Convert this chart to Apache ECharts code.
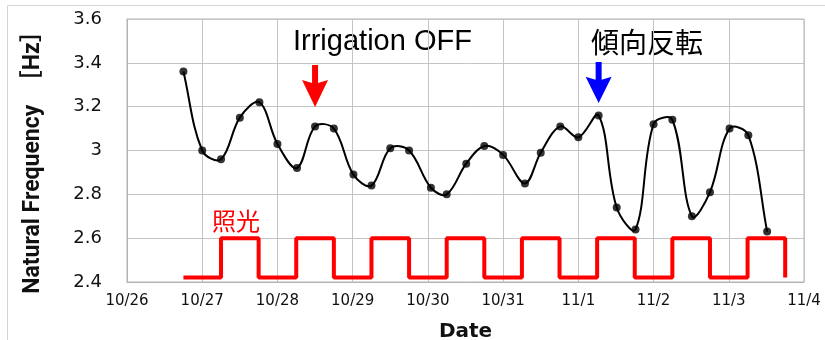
<!DOCTYPE html>
<html>
<head>
<meta charset="utf-8">
<script src="https://cdn.jsdelivr.net/npm/echarts@6/dist/echarts.min.js"></script>
<style>
  html, body { margin: 0; padding: 0; background: #fff; }
  #chart { width: 825px; height: 340px; }
</style>
</head>
<body>
<div id="chart"></div>
<script>
// 横軸の目盛ラベル（10/26 を 0 とした日数）
const dayLabels = ['10/26', '10/27', '10/28', '10/29', '10/30', '10/31', '11/1', '11/2', '11/3', '11/4'];

// 固有振動数の計測時刻（日）と値
const freqTimes = [0.75, 1.0, 1.25, 1.5, 1.76, 2.0, 2.26, 2.5, 2.75, 3.01, 3.25, 3.5, 3.75, 4.04, 4.25, 4.51,
  4.75, 5.0, 5.29, 5.5, 5.76, 6.0, 6.27, 6.51, 6.76, 7.0, 7.25, 7.51, 7.75, 8.01, 8.26, 8.51];
const freqValues = [3.36, 3.0, 2.96, 3.15, 3.22, 3.03, 2.92, 3.11, 3.1, 2.89, 2.84, 3.01, 3.0, 2.83, 2.8, 2.94,
  3.02, 2.98, 2.85, 2.99, 3.11, 3.06, 3.16, 2.74, 2.64, 3.12, 3.14, 2.7, 2.81, 3.1, 3.07, 2.63];

// 照光（6:00-18:00 点灯）
const lightTimes = [0.75, 1.25, 1.75, 2.25, 2.75, 3.25, 3.75, 4.25, 4.75, 5.25, 5.75, 6.25, 6.75, 7.25, 7.75, 8.25, 8.75];
const lightLevels = [2.42, 2.6, 2.42, 2.6, 2.42, 2.6, 2.42, 2.6, 2.42, 2.6, 2.42, 2.6, 2.42, 2.6, 2.42, 2.6, 2.42];

const myChart = echarts.init(document.getElementById('chart'));

const freqData = freqTimes.map((t, i) => [t, freqValues[i]]);
const lightData = lightTimes.map((t, i) => [t, lightLevels[i]]);

const arrowPath = 'path://M10,0 L16,0 L16,18 L26,15 L13,42 L0,15 L10,18 Z';

// Excel 風のスムージング線（区間長で重み付けしたベジェ）
const renderSmooth = (params, api) => {
  const pts = freqData.map(d => api.coord(d));
  const dist = (a, b) => Math.hypot(b[0] - a[0], b[1] - a[1]);
  const t = 0.36;
  // 各点の入り・出の制御点
  const cpIn = [], cpOut = [];
  for (let i = 0; i < pts.length; i++) {
    const prev = pts[i - 1] || pts[i];
    const next = pts[i + 1] || pts[i];
    const d0 = dist(prev, pts[i]);
    const d1 = dist(pts[i], next);
    const sum = d0 + d1 || 1;
    const vx = next[0] - prev[0];
    const vy = next[1] - prev[1];
    cpIn.push([pts[i][0] - vx * t * d0 / sum, pts[i][1] - vy * t * d0 / sum]);
    cpOut.push([pts[i][0] + vx * t * d1 / sum, pts[i][1] + vy * t * d1 / sum]);
  }
  let path = 'M' + pts[0][0] + ',' + pts[0][1];
  for (let i = 0; i < pts.length - 1; i++) {
    path += ' C' + cpOut[i][0] + ',' + cpOut[i][1] + ' ' + cpIn[i + 1][0] + ',' + cpIn[i + 1][1] +
      ' ' + pts[i + 1][0] + ',' + pts[i + 1][1];
  }
  return {
    type: 'path',
    shape: { pathData: path },
    style: { stroke: '#000', fill: 'none', lineWidth: 2 }
  };
};

const option = {
  animation: false,
  grid: {
    left: 127,
    right: 21,
    top: 19,
    bottom: 58,
    outerBoundsMode: 'none',
    show: true,
    borderColor: '#b4b4b4',
    borderWidth: 1
  },
  xAxis: {
    type: 'value',
    min: 0,
    max: 9,
    interval: 1,
    name: 'Date',
    nameLocation: 'middle',
    nameGap: 40,
    nameTextStyle: {
      fontFamily: 'DejaVu Sans',
      fontWeight: 'bold',
      fontSize: 20,
      color: '#111'
    },
    axisLine: { lineStyle: { color: '#b4b4b4' } },
    axisTick: { show: false },
    axisLabel: {
      formatter: v => dayLabels[Math.round(v)],
      fontFamily: 'DejaVu Sans',
      fontSize: 15,
      color: '#111',
      margin: 12
    },
    splitLine: { lineStyle: { color: '#c4c4c4' } }
  },
  yAxis: {
    type: 'value',
    min: 2.4,
    max: 3.6,
    interval: 0.2,
    name: 'Natural Frequency\u3000［Hz］',
    nameLocation: 'middle',
    nameRotate: 90,
    nameGap: 82,
    nameTextStyle: {
      fontFamily: 'Roboto, "Noto Sans CJK JP"',
      fontWeight: 'bold',
      fontSize: 23,
      color: '#111',
      padding: [0, 12, 0, 0]
    },
    axisLine: { show: true, lineStyle: { color: '#b4b4b4' } },
    axisTick: { show: false },
    axisLabel: {
      fontFamily: 'DejaVu Sans',
      fontSize: 18,
      color: '#111',
      margin: 25
    },
    splitLine: { lineStyle: { color: '#c4c4c4' } }
  },
  series: [
    {
      name: '照光',
      type: 'line',
      step: 'end',
      data: lightData,
      showSymbol: false,
      lineStyle: { color: '#ff0000', width: 4 },
      z: 2
    },
    {
      name: 'smooth',
      type: 'custom',
      renderItem: renderSmooth,
      data: [freqData[0]],
      z: 3
    },
    {
      name: 'Natural Frequency',
      type: 'scatter',
      data: freqData,
      symbol: 'circle',
      symbolSize: 8,
      itemStyle: { color: '#000' },
      z: 4,
      markPoint: {
        symbol: arrowPath,
        symbolKeepAspect: false,
        label: { show: false },
        data: [
          { coord: [2.5, 3.294], symbolSize: [26, 42], itemStyle: { color: '#ff0000' } },
          { coord: [6.27, 3.31], symbolSize: [26, 41], itemStyle: { color: '#0000ff' } }
        ]
      }
    }
  ],
  graphic: [
    {
      type: 'rect',
      silent: true,
      shape: { x: 7.5, y: 5.5, width: 840, height: 360 },
      style: { fill: 'none', stroke: '#d4d4d4', lineWidth: 1 }
    },
    {
      type: 'text',
      left: 293,
      top: 27,
      style: {
        text: 'Irrigation OFF',
        fontFamily: 'Liberation Sans',
        fontSize: 29,
        fill: '#000'
      }
    },
    {
      type: 'text',
      left: 591,
      top: 28,
      style: {
        text: '傾向反転',
        fontFamily: '"Noto Sans CJK JP"',
        fontSize: 28,
        fill: '#000'
      }
    },
    {
      type: 'text',
      left: 212,
      top: 209,
      style: {
        text: '照光',
        fontFamily: '"Noto Sans CJK JP"',
        fontSize: 24,
        fill: '#ff0000'
      }
    }
  ]
};
myChart.setOption(option);
</script>
</body>
</html>
